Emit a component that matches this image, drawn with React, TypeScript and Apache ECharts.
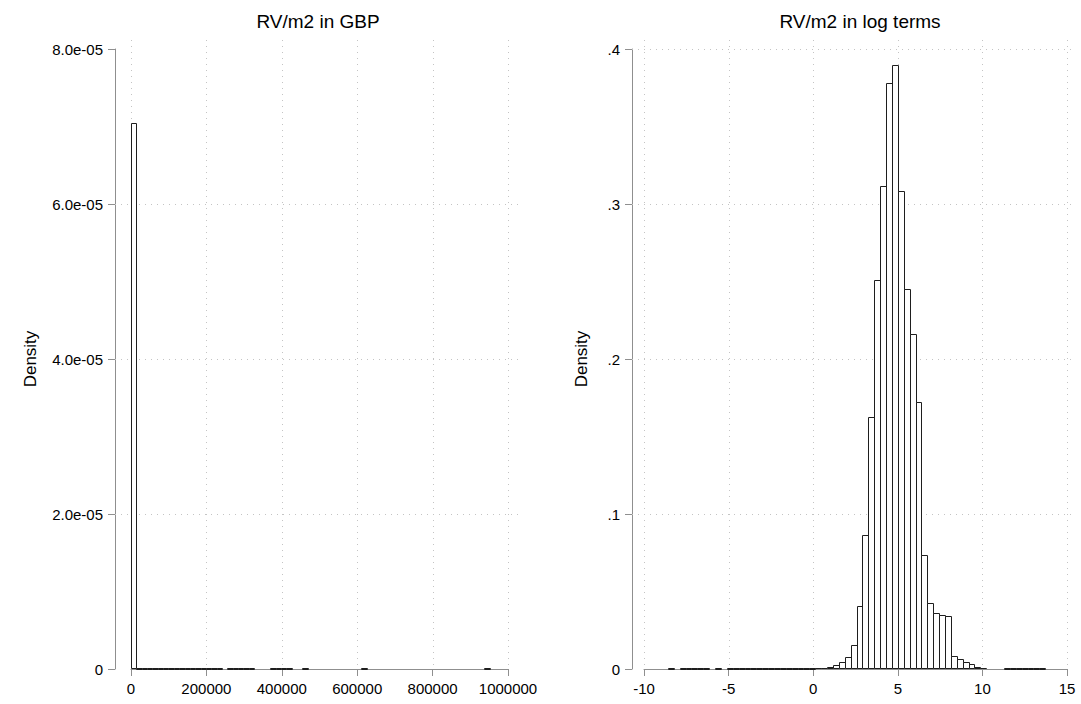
import React, { useEffect, useRef } from 'react';
import * as echarts from 'echarts';

// ---------- data ----------
const titles = ['RV/m2 in GBP', 'RV/m2 in log terms'];
const yTitle = 'Density';

// Left panel: histogram of RV/m2 in GBP
const gbpBinStart = 0;
const gbpBinWidth = 14200;
const gbpDensity = [
  7.05e-5,
  2e-8, 2e-8, 2e-8, 2e-8, 2e-8, 2e-8, 2e-8, 2e-8, 2e-8, 2e-8, 2e-8, 2e-8, 2e-8, 2e-8, 2e-8, 2e-8,
  0,
  2e-8, 2e-8, 2e-8, 2e-8, 2e-8,
  0, 0, 0,
  2e-8, 2e-8, 2e-8, 2e-8,
  0, 0,
  2e-8,
  0, 0, 0, 0, 0, 0, 0, 0, 0, 0,
  2e-8,
  0, 0, 0, 0, 0, 0, 0, 0, 0, 0, 0, 0, 0, 0, 0, 0, 0, 0, 0, 0, 0, 0,
  2e-8,
];
const gbpXTicks = [0, 200000, 400000, 600000, 800000, 1000000];
const gbpYGrid = [2e-5, 4e-5, 6e-5];

// Right panel: histogram of log RV/m2
const logBinStart = -8.59;
const logBinWidth = 0.3485;
const logDensity = [
  0.0002, 0, 0.0002, 0.0002, 0.0002, 0.0002, 0.0002, 0, 0.0002, 0,
  0.0002, 0.0002, 0.0002, 0.0002, 0.0002, 0.0002, 0.0002, 0.0002, 0.0003, 0.0002,
  0.0003, 0.0003, 0.0003, 0.0003, 0.0003, 0.0004, 0.0005,
  0.001, 0.0028, 0.0045, 0.0075, 0.0152, 0.0404, 0.0862, 0.1623, 0.2507, 0.3113,
  0.3783, 0.3897, 0.3081, 0.2449, 0.2159, 0.172, 0.0733, 0.0428, 0.0361, 0.0348,
  0.034, 0.0086, 0.0062, 0.0047, 0.003, 0.0013, 0.0006,
  0, 0, 0,
  0.0002, 0.0002, 0.0002, 0.0002, 0.0002, 0.0002, 0.0002,
];
const logXTicks = [-10, -5, 0, 5, 10, 15];
const logYGrid = [0.1, 0.2, 0.3, 0.4];

// ---------- styling ----------
const FONT = 'Helvetica, "Liberation Sans", Arial, sans-serif';
const AXIS_COLOR = '#8f8f8f';
const GRID_COLOR = '#c4c4c4';
const BAR_STROKE = '#1e1e1e';

function binsToData(start: number, width: number, dens: number[]) {
  const out: number[][] = [];
  dens.forEach((d, i) => {
    if (d > 0) out.push([start + i * width, start + (i + 1) * width, d]);
  });
  return out;
}

function barSeries(idx: number, data: number[][]) {
  return {
    type: 'custom',
    xAxisIndex: idx,
    yAxisIndex: idx,
    silent: true,
    z: 5,
    encode: { x: [0, 1], y: 2 },
    data,
    renderItem: (params: any, api: any) => {
      const a = api.coord([api.value(0), api.value(2)]);
      const b = api.coord([api.value(1), 0]);
      const x0 = Math.round(a[0]) + 0.5;
      const x1 = Math.round(b[0]) + 0.5;
      const y0 = Math.round(a[1]) + 0.5;
      const y1 = Math.round(b[1]) - 0.5;
      return {
        type: 'rect',
        shape: { x: x0, y: Math.min(y0, y1), width: x1 - x0, height: Math.abs(y1 - y0) },
        style: { fill: '#ffffff', stroke: BAR_STROKE, lineWidth: 1 },
      };
    },
  };
}

function vGridSeries(idx: number, ticks: number[], yMax: number) {
  return {
    type: 'custom',
    xAxisIndex: idx,
    yAxisIndex: idx,
    silent: true,
    z: 1,
    clip: false,
    data: ticks.map((t) => [t, 0]),
    renderItem: (params: any, api: any) => {
      const top = api.coord([api.value(0), yMax]);
      const bot = api.coord([api.value(0), 0]);
      const x = Math.round(top[0]) + 0.5;
      return {
        type: 'line',
        shape: { x1: x, y1: top[1] - 9, x2: x, y2: bot[1] },
        style: { stroke: GRID_COLOR, lineWidth: 1, lineDash: [1, 5] },
      };
    },
  };
}

function hGridSeries(idx: number, ticks: number[], xMin: number, xMax: number, leftExt: number, rightExt: number) {
  return {
    type: 'custom',
    xAxisIndex: idx,
    yAxisIndex: idx,
    silent: true,
    z: 1,
    clip: false,
    data: ticks.map((t) => [xMin, t]),
    renderItem: (params: any, api: any) => {
      const l = api.coord([xMin, api.value(1)]);
      const r = api.coord([xMax, api.value(1)]);
      const y = Math.round(l[1]) + 0.5;
      return {
        type: 'line',
        shape: { x1: l[0] - leftExt, y1: y, x2: r[0] + rightExt, y2: y },
        style: { stroke: GRID_COLOR, lineWidth: 1, lineDash: [1, 5] },
      };
    },
  };
}

const axisLine = { show: true, onZero: false, lineStyle: { color: AXIS_COLOR, width: 1 } };
const axisTick = { show: true, length: 7, lineStyle: { color: AXIS_COLOR, width: 1 } };
const labelBase = { color: '#000', fontSize: 15, fontFamily: FONT, margin: 12 };
const titleStyle = { fontSize: 19, fontWeight: 'normal', color: '#000', fontFamily: FONT };

export default function App() {
  const ref = useRef<HTMLDivElement>(null);
  useEffect(() => {
    if (!ref.current) return;
    const chart = echarts.init(ref.current, undefined, { renderer: 'svg' });
    const option: any = {
      animation: false,
      backgroundColor: '#ffffff',
      title: [
        { text: titles[0], left: 313, top: 7, textAlign: 'center', textStyle: titleStyle },
        { text: titles[1], left: 855, top: 7, textAlign: 'center', textStyle: titleStyle },
      ],
      grid: [
        { left: 131, right: 573, top: 49, bottom: 35 },
        { left: 644, right: 14, top: 49, bottom: 35 },
      ],
      xAxis: [
        {
          gridIndex: 0, type: 'value', min: 0, max: 1000000, interval: 200000,
          axisLine, axisTick, splitLine: { show: false },
          axisLabel: { ...labelBase, formatter: (v: number) => String(v) },
        },
        {
          gridIndex: 1, type: 'value', min: -10, max: 15, interval: 5,
          axisLine, axisTick, splitLine: { show: false },
          axisLabel: { ...labelBase, formatter: (v: number) => String(v) },
        },
      ],
      yAxis: [
        {
          gridIndex: 0, type: 'value', min: 0, max: 8e-5, interval: 2e-5, offset: 16,
          axisLine, axisTick, splitLine: { show: false },
          axisLabel: {
            ...labelBase,
            formatter: (v: number) => (v === 0 ? '0' : v.toExponential(1).replace(/e([+-])(\d)$/, 'e$10$2')),
          },
          name: yTitle, nameLocation: 'middle', nameGap: 76,
          nameTextStyle: { fontSize: 17, color: '#000', fontFamily: FONT },
        },
        {
          gridIndex: 1, type: 'value', min: 0, max: 0.4, interval: 0.1, offset: 12,
          axisLine, axisTick, splitLine: { show: false },
          axisLabel: {
            ...labelBase,
            formatter: (v: number) => (v === 0 ? '0' : v.toFixed(1).replace(/^0/, '')),
          },
          name: yTitle, nameLocation: 'middle', nameGap: 42,
          nameTextStyle: { fontSize: 17, color: '#000', fontFamily: FONT },
        },
      ],
      series: [
        vGridSeries(0, gbpXTicks, 8e-5),
        hGridSeries(0, gbpYGrid, 0, 1000000, 16, 12),
        barSeries(0, binsToData(gbpBinStart, gbpBinWidth, gbpDensity)),
        vGridSeries(1, logXTicks, 0.4),
        hGridSeries(1, logYGrid, -10, 15, 12, 8),
        barSeries(1, binsToData(logBinStart, logBinWidth, logDensity)),
      ],
    };
    chart.setOption(option);
    return () => chart.dispose();
  }, []);
  return (
    <div
      ref={ref}
      style={{ position: 'fixed', left: 0, top: 0, width: 1081, height: 704, background: '#fff' }}
    />
  );
}
